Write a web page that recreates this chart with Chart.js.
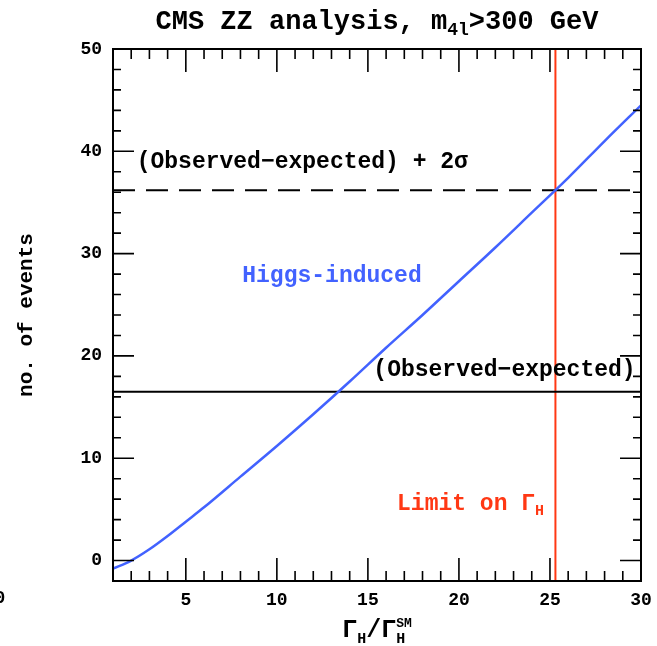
<!DOCTYPE html>
<html>
<head>
<meta charset="utf-8">
<script src="https://cdn.jsdelivr.net/npm/chart.js@4.4.1/dist/chart.umd.min.js"></script>
<style>
  html, body { margin: 0; padding: 0; background: #fff; }
  #wrap { width: 657px; height: 646px; }
</style>
</head>
<body>
<div id="wrap"><canvas id="zzChart" width="657" height="646"></canvas></div>
<script>
// Higgs-induced events vs Gamma_H / Gamma_H^SM
const widthRatio = [1, 2, 3, 4, 5, 6, 8, 10, 12, 14, 16, 18, 20, 22, 24, 26, 28, 30];
const higgsEvents = [-0.8, 0, 1.1, 2.4, 3.8, 5.2, 8.2, 11.2, 14.3, 17.5, 20.8, 24.0, 27.3, 30.6, 34.0, 37.4, 41.0, 44.5];

const obsMinusExp = 16.5;
const obsMinusExp2Sigma = 36.2;
const widthLimit = 25.3;

const xRange = [1, 30];
const yRange = [-2, 50];
const xTickLabels = [5, 10, 15, 20, 25, 30];
const yTickLabels = [0, 10, 20, 30, 40, 50];
const xMinorStep = 1;
const yMinorStep = 2;

const MONO = '"Liberation Mono", "DejaVu Sans Mono", monospace';
const BLUE = "#4262ff";
const RED = "#ff3814";

function fontOf(size) {
  return "bold " + size + "px " + MONO;
}

// text with sub/superscripts: parts = [{t, size, dy, stack}]
function richWidth(c, parts) {
  let w = 0, pending = 0;
  parts.forEach((p) => {
    c.font = fontOf(p.size);
    const pw = c.measureText(p.t).width;
    if (p.stack) pending = pw;
    else { w += Math.max(pw, pending); pending = 0; }
  });
  return w;
}

function drawRich(c, parts, x, y, align) {
  let cx = align === "center" ? x - richWidth(c, parts) / 2 : x;
  let pending = 0;
  c.textAlign = "left";
  c.textBaseline = "alphabetic";
  parts.forEach((p) => {
    c.font = fontOf(p.size);
    const pw = c.measureText(p.t).width;
    c.fillText(p.t, cx, y + (p.dy || 0));
    if (p.stack) pending = pw;
    else { cx += Math.max(pw, pending); pending = 0; }
  });
}

const framePlugin = {
  id: "frame",
  afterDraw(chart) {
    const c = chart.ctx;
    const a = chart.chartArea;
    const xs = chart.scales.x;
    const ys = chart.scales.y;
    c.save();
    c.strokeStyle = "#000";
    c.lineWidth = 2;
    c.strokeRect(a.left, a.top, a.right - a.left, a.bottom - a.top);

    // inward ticks on all four sides
    c.lineWidth = 1.6;
    c.beginPath();
    for (let v = xRange[0]; v <= xRange[1]; v += xMinorStep) {
      const px = xs.getPixelForValue(v);
      const len = xTickLabels.includes(v) ? 23 : 10;
      c.moveTo(px, a.bottom); c.lineTo(px, a.bottom - len);
      c.moveTo(px, a.top); c.lineTo(px, a.top + len);
    }
    for (let v = yRange[0]; v <= yRange[1]; v += yMinorStep) {
      const py = ys.getPixelForValue(v);
      const len = yTickLabels.includes(v) ? 21 : 8;
      c.moveTo(a.left, py); c.lineTo(a.left + len, py);
      c.moveTo(a.right, py); c.lineTo(a.right - len, py);
    }
    c.stroke();

    // annotations
    c.fillStyle = "#000";
    c.font = fontOf(23);
    c.textAlign = "left";
    c.textBaseline = "middle";
    c.fillText("(Observed\u2212expected) + 2\u03c3", xs.getPixelForValue(2.3), ys.getPixelForValue(38.9));
    c.fillText("(Observed\u2212expected)", xs.getPixelForValue(15.3), ys.getPixelForValue(18.6));
    c.fillStyle = BLUE;
    c.fillText("Higgs-induced", xs.getPixelForValue(8.1), ys.getPixelForValue(27.8));
    c.fillStyle = RED;
    drawRich(c, [
      { t: "Limit on \u0393", size: 23 },
      { t: "H", size: 15, dy: 5 }
    ], xs.getPixelForValue(16.6), ys.getPixelForValue(5.6) + 7, "left");

    // title
    c.fillStyle = "#000";
    const midX = (a.left + a.right) / 2;
    drawRich(c, [
      { t: "CMS ZZ analysis, m", size: 27 },
      { t: "4l", size: 18, dy: 6 },
      { t: ">300 GeV", size: 27 }
    ], midX, 29, "center");

    // x title
    drawRich(c, [
      { t: "\u0393", size: 25 },
      { t: "H", size: 15, dy: 6 },
      { t: "/\u0393", size: 25 },
      { t: "H", size: 15, dy: 6, stack: true },
      { t: "SM", size: 13, dy: -10 }
    ], midX, 637, "center");

    // clipped stray "0" label at the far left, as in the original
    c.font = fontOf(18);
    c.textAlign = "center";
    c.textBaseline = "middle";
    c.fillText("0", 0, 598);

    // y title
    c.translate(27, (a.top + a.bottom) / 2);
    c.rotate(-Math.PI / 2);
    c.font = fontOf(21);
    c.fillText("no. of events", 0, 0);
    c.restore();
  }
};

const ctx = document.getElementById("zzChart").getContext("2d");
new Chart(ctx, {
  type: "line",
  data: {
    datasets: [
      {
        label: "Higgs-induced",
        data: widthRatio.map((r, i) => ({ x: r, y: higgsEvents[i] })),
        borderColor: BLUE,
        borderWidth: 2.5,
        pointRadius: 0,
        cubicInterpolationMode: "monotone"
      },
      {
        label: "Observed-expected",
        data: xRange.map((x) => ({ x: x, y: obsMinusExp })),
        borderColor: "#000",
        borderWidth: 2,
        pointRadius: 0
      },
      {
        label: "Observed-expected + 2 sigma",
        data: xRange.map((x) => ({ x: x, y: obsMinusExp2Sigma })),
        borderColor: "#000",
        borderWidth: 2,
        borderDash: [22, 11],
        pointRadius: 0
      },
      {
        label: "Limit on Gamma_H",
        data: yRange.map((y) => ({ x: widthLimit, y: y })),
        borderColor: RED,
        borderWidth: 2,
        pointRadius: 0
      }
    ]
  },
  options: {
    responsive: false,
    animation: false,
    layout: { padding: { top: 49, right: 16, left: 0, bottom: 0 } },
    plugins: {
      legend: { display: false },
      tooltip: { enabled: false }
    },
    scales: {
      x: {
        type: "linear",
        min: xRange[0],
        max: xRange[1],
        grid: { display: false },
        border: { display: false },
        afterBuildTicks: (s) => { s.ticks = xTickLabels.map((v) => ({ value: v })); },
        afterFit: (s) => { s.height = 65; },
        ticks: { padding: 1, color: "#000", maxRotation: 0, font: { family: MONO, size: 18, weight: "bold" } }
      },
      y: {
        type: "linear",
        min: yRange[0],
        max: yRange[1],
        grid: { display: false },
        border: { display: false },
        afterBuildTicks: (s) => { s.ticks = yTickLabels.map((v) => ({ value: v })); },
        afterFit: (s) => { s.width = 113; },
        ticks: { padding: 3, color: "#000", font: { family: MONO, size: 18, weight: "bold" } }
      }
    }
  },
  plugins: [framePlugin]
});
</script>
</body>
</html>
